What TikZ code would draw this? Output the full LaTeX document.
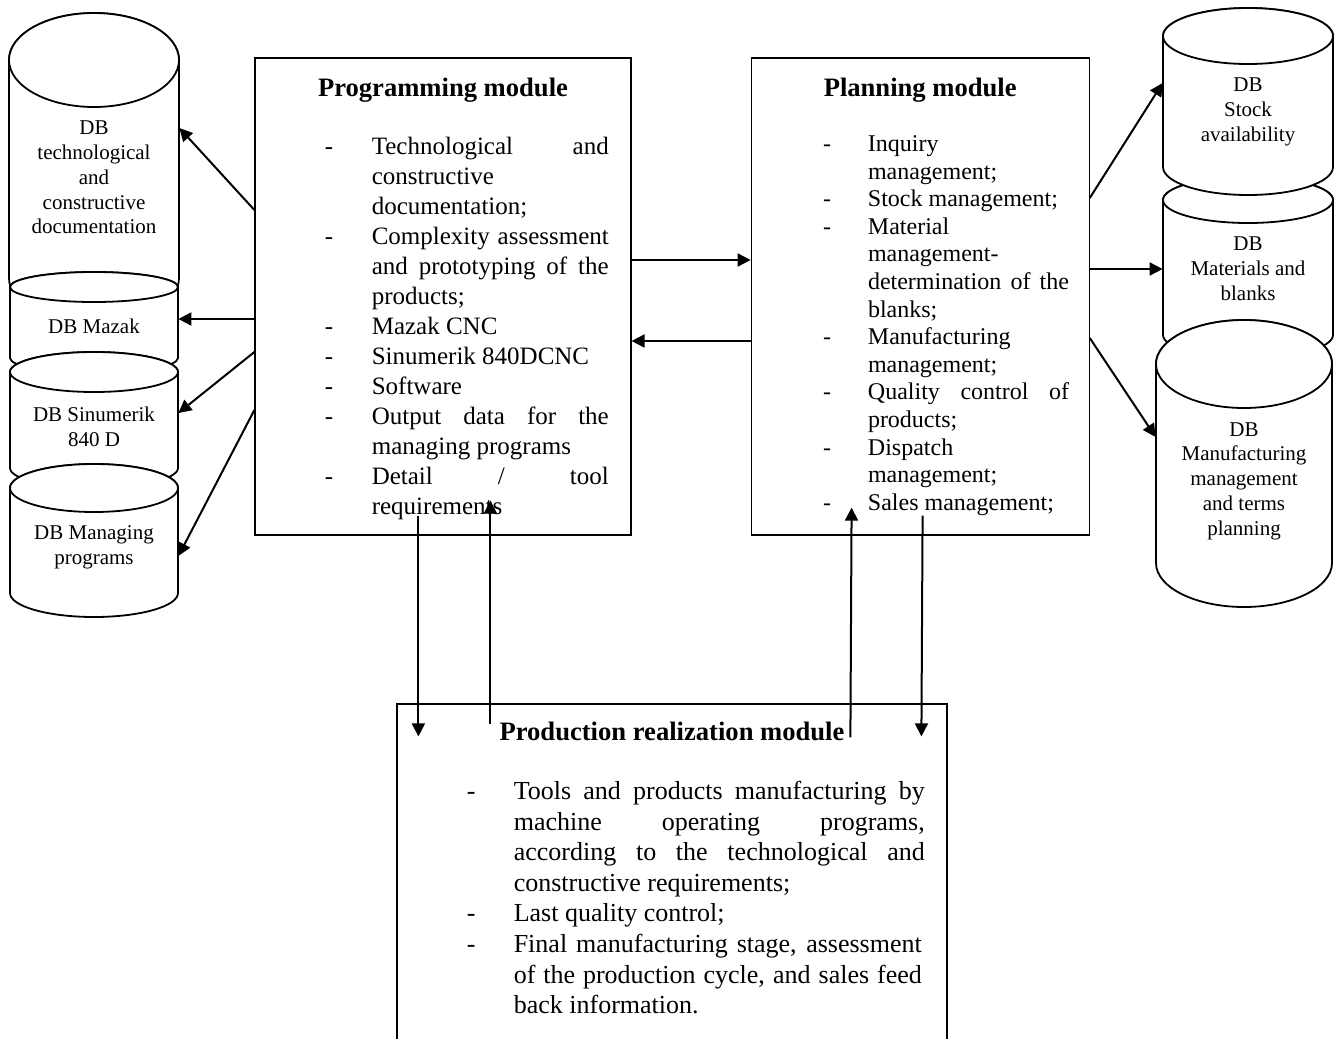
\documentclass[tikz,border=0pt]{standalone}
\usepackage{fontspec}
\setmainfont{Liberation Serif}
\usetikzlibrary{arrows.meta,positioning}

% database cylinder: cx, top y, bottom y, rx, ry (pixel units, y downwards)
\newcommand{\dbcan}[5]{%
  \draw[dbline] (#1-#4,-#2) -- (#1-#4,-#3)
    arc[start angle=180, end angle=360, x radius=#4*0.5pt, y radius=#5*0.5pt]
    -- (#1+#4,-#2)
    arc[start angle=0, end angle=180, x radius=#4*0.5pt, y radius=#5*0.5pt] -- cycle;
  \draw[dbline] (#1,-#2) ellipse[x radius=#4*0.5pt, y radius=#5*0.5pt];
}
% justified line
\newcommand{\jline}[2]{\makebox[#1][s]{#2}}

\begin{document}
\begin{tikzpicture}[x=0.5pt, y=0.5pt,
module/.style={rectangle, draw=black, line width=0.6pt, inner sep=0pt},
modtitle/.style={inner sep=0pt, anchor=base, font=\bfseries\fontsize{13.3}{16}\selectfont},
modlist/.style={inner sep=0pt, anchor=base west},
dbline/.style={draw=black, fill=white, line width=0.9pt},
dbtxt/.style={inner sep=0pt, align=center, font=\fontsize{10.5}{12.4}\selectfont},
arr/.style={-{Triangle[length=6.5pt, width=6.5pt]}, line width=1pt}
]
\useasboundingbox (0,0) rectangle (1335,-1039);
\clip (0,0) rectangle (1335,-1039);

%Modules
\node[module, minimum width=188pt, minimum height=238.5pt] (prog) at (443,-296.5) {};
\node[module, minimum width=169pt, minimum height=238.5pt] (plan) [right=59.5pt of prog] {};
\node[module, minimum width=275pt, minimum height=180pt]   (prod) at (672,-884) {};

\node[modtitle] (progT) at ([shift={(0,-39)}]prog.north) {Programming module};
\node[modtitle] (planT) at ([shift={(0,-39)}]plan.north) {Planning module};
\node[modtitle] (prodT) at ([shift={(0,-37)}]prod.north) {Production realization module};

\node[modlist, font=\fontsize{12.5}{15}\selectfont] (progL) at ([shift={(70,-97)}]prog.north west) {%
\begin{tabular}[t]{@{}p{23.5pt}@{}l@{}}
- & \jline{118.5pt}{Technological and}\\
  & constructive\\
  & documentation;\\
- & \jline{118.5pt}{Complexity assessment}\\
  & \jline{118.5pt}{and prototyping of the}\\
  & products;\\
- & Mazak CNC\\
- & Sinumerik 840DCNC\\
- & Software\\
- & \jline{118.5pt}{Output data for the}\\
  & managing programs\\
- & \jline{118.5pt}{Detail / tool}\\
  & requirements
\end{tabular}};

\node[modlist, font=\fontsize{12}{13.8}\selectfont] (planL) at ([shift={(72,-94)}]plan.north west) {%
\begin{tabular}[t]{@{}p{22.5pt}@{}l@{}}
- & Inquiry\\
  & management;\\
- & Stock management;\\
- & Material\\
  & management-\\
  & \jline{100.5pt}{determination of the}\\
  & blanks;\\
- & Manufacturing\\
  & management;\\
- & \jline{100.5pt}{Quality control of}\\
  & products;\\
- & Dispatch\\
  & management;\\
- & Sales management;
\end{tabular}};

\node[modlist, font=\fontsize{13}{15.3}\selectfont] (prodL) at ([shift={(70,-96)}]prod.north west) {%
\begin{tabular}[t]{@{}p{23.5pt}@{}l@{}}
- & \jline{205.5pt}{Tools and products manufacturing by}\\
  & \jline{205.5pt}{machine operating programs,}\\
  & \jline{205.5pt}{according to the technological and}\\
  & constructive requirements;\\
- & Last quality control;\\
- & \jline{204pt}{Final manufacturing stage, assessment}\\
  & \jline{204pt}{of the production cycle, and sales feed}\\
  & back information.
\end{tabular}};

%Databases
\dbcan{94}{60}{278}{85}{47}
\node[dbtxt, minimum width=85pt] (dbdoc) at (94,-177.5) {DB\\technological\\and\\constructive\\documentation};
\dbcan{94}{287}{358}{84}{15}
\node[dbtxt, minimum width=84pt] (dbmaz) at (94,-326) {DB Mazak};
\dbcan{94}{372}{468}{84}{20}
\node[dbtxt, minimum width=84pt] (dbsin) at (94,-427) {DB Sinumerik\\840 D};
\dbcan{94}{488}{593}{84}{24}
\node[dbtxt, minimum width=84pt] (dbmp) at (94,-547) {DB Managing\\programs};

\dbcan{1248}{200}{335}{85}{23}
\node[dbtxt, minimum width=85pt] (dbmat) at (1248,-269) {DB\\Materials and\\blanks};
\dbcan{1248}{36}{167}{85}{28}
\node[dbtxt, minimum width=85pt] (dbstock) at (1248,-112) {DB\\Stock\\availability};
\dbcan{1244}{364}{563}{88}{44}
\node[dbtxt, minimum width=88pt] (dbman) at (1244,-481) {DB\\Manufacturing\\management\\and terms\\planning};

%Lines
\draw[arr] ([shift={(0,86.5)}]prog.west) -- ([shift={(0,49.5)}]dbdoc.east);
\draw[arr] ([shift={(0,-22.5)}]prog.west) -- ([shift={(0,7)}]dbmaz.east);
\draw[arr] ([shift={(0,-55.5)}]prog.west) -- ([shift={(0,14)}]dbsin.east);
\draw[arr] ([shift={(0,-113.5)}]prog.west) -- ([shift={(0,-9)}]dbmp.east);

\draw[arr] ([shift={(0,36.5)}]prog.east) -- ([shift={(0,36.5)}]plan.west);
\draw[arr] ([shift={(0,-44.5)}]plan.west) -- ([shift={(0,-44.5)}]prog.east);

\draw[arr] ([shift={(0,98.5)}]plan.east) -- ([shift={(0,29)}]dbstock.west);
\draw[arr] ([shift={(0,27.5)}]plan.east) -- (dbmat.west);
\draw[arr] ([shift={(0,-41.5)}]plan.east) -- ([shift={(0,44)}]dbman.west);

\draw[arr] ([shift={(164,20)}]prog.south west) -- ([shift={(22,-33)}]prod.north west);
\draw[arr] ([shift={(94,-21)}]prod.north west) -- ([shift={(236,35)}]prog.south west);
\draw[arr] ([shift={(454,-34)}]prod.north west) -- ([shift={(101,28)}]plan.south west);
\draw[arr] ([shift={(172,20)}]plan.south west) -- ([shift={(525,-33)}]prod.north west);
\end{tikzpicture}
\end{document}
